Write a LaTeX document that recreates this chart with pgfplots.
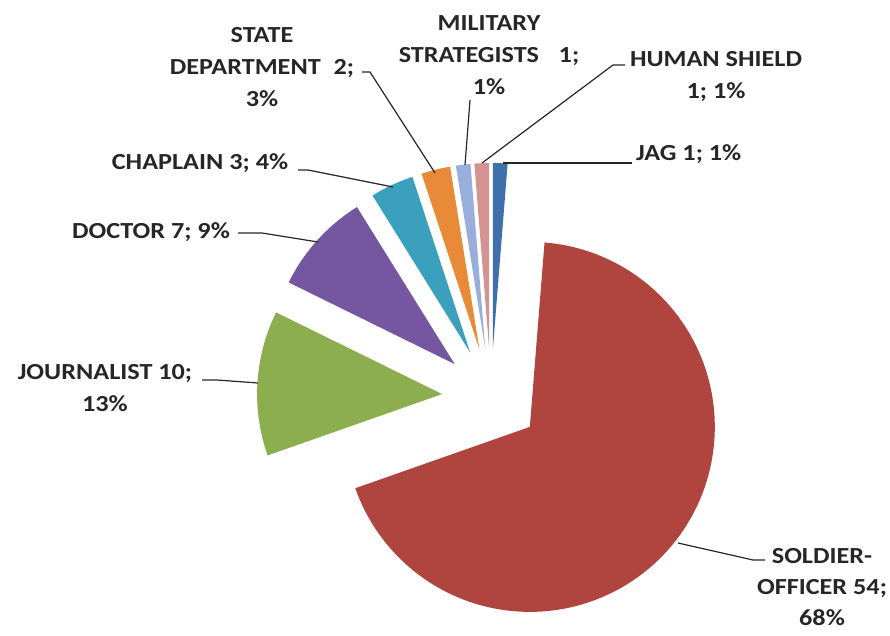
\documentclass[border=0pt]{standalone}
\usepackage{pgfplots}
\pgfplotsset{compat=1.18}
\usepackage{pgfplotstable}
\usepackage{fontspec}
\setmainfont{Carlito}[FakeStretch=1.14]

\definecolor{c0}{HTML}{3F70AC}
\definecolor{c1}{HTML}{B0443F}
\definecolor{c2}{HTML}{8DAE4F}
\definecolor{c3}{HTML}{7457A0}
\definecolor{c4}{HTML}{3AA0BE}
\definecolor{c5}{HTML}{E88A38}
\definecolor{c6}{HTML}{98AEDC}
\definecolor{c7}{HTML}{D49390}

\tikzset{lab/.style={font=\fontsize{23}{32}\selectfont\bfseries,align=center,inner sep=0pt,text=black!85}}

\pgfplotstableread[col sep=comma]{
name,value
JAG,1
SOLDIER-OFFICER,54
JOURNALIST,10
DOCTOR,7
CHAPLAIN,3
STATE DEPARTMENT,2
MILITARY STRATEGISTS,1
HUMAN SHIELD,1
}\piedata

\pgfplotstablegetrowsof{\piedata}
\pgfmathtruncatemacro\nrows{\pgfplotsretval-1}
\def\pietotal{0}
\pgfplotsforeachungrouped \i in {0,...,\nrows}{%
  \pgfplotstablegetelem{\i}{value}\of\piedata
  \pgfmathsetmacro\pietotal{\pietotal+\pgfplotsretval}%
}
\pgfmathsetmacro\piedeg{360/\pietotal}

\begin{document}
\begin{tikzpicture}
\begin{axis}[x=1pt,y=1pt,xmin=0,xmax=890,ymin=0,ymax=635,ticks=none,
  axis line style={draw=none},clip=false]
\def\piecum{0}
\pgfplotsforeachungrouped \i in {0,...,\nrows}{%
  \pgfplotstablegetelem{\i}{value}\of\piedata
  \let\pieval=\pgfplotsretval
  \pgfmathsetmacro\piea{90-\piedeg*\piecum}%
  \pgfmathsetmacro\pieb{90-\piedeg*(\piecum+\pieval)}%
  \pgfmathsetmacro\piem{(\piea+\pieb)/2}%
  \pgfmathsetmacro\pieox{491+49*cos(\piem)}%
  \pgfmathsetmacro\pieoy{238+49*sin(\piem)}%
  \pgfmathtruncatemacro\pions{max(8,abs(\piea-\pieb)/1.5)}%
  \edef\cmd{\noexpand\addplot[draw=none,fill=c\i,domain=\pieb:\piea,samples=\pions,variable=\noexpand\tt]
     ({\pieox+185*cos(\noexpand\tt)},{\pieoy+185*sin(\noexpand\tt)}) -- (axis cs:\pieox,\pieoy) -- cycle;}%
  \cmd
  \pgfmathsetmacro\piecum{\piecum+\pieval}%
}
% leader lines
\addplot[black!85,line width=1.2pt] coordinates {(503,472) (632,472)};
\addplot[black!85,line width=1.2pt] coordinates {(482,472) (613,570) (625,570)};
\addplot[black!85,line width=1.2pt] coordinates {(465,470) (470,535)};
\addplot[black!85,line width=1.2pt] coordinates {(435,462) (370,563) (362,563)};
\addplot[black!85,line width=1.2pt] coordinates {(393,448) (308,465) (298,465)};
\addplot[black!85,line width=1.2pt] coordinates {(238,402) (262,402) (318,393)};
\addplot[black!85,line width=1.2pt] coordinates {(202,255) (217,255) (258,252)};
\addplot[black!85,line width=1.2pt] coordinates {(678,92) (753,75) (765,75)};
% labels
\node[lab,anchor=west] at (axis cs:636,481) {JAG 1; 1\%};
\node[lab] at (axis cs:716,558) {HUMAN SHIELD\\1; 1\%};
\node[lab] at (axis cs:489,580) {MILITARY\\STRATEGISTS\hspace{0.6em} 1;\\1\%};
\node[lab] at (axis cs:262,568) {STATE\\DEPARTMENT\hspace{0.3em} 2;\\3\%};
\node[lab] at (axis cs:200,472) {CHAPLAIN 3; 4\%};
\node[lab] at (axis cs:151,403) {DOCTOR 7; 9\%};
\node[lab] at (axis cs:105,247) {JOURNALIST 10;\\13\%};
\node[lab,font=\fontsize{23}{31}\selectfont\bfseries] at (axis cs:822,48) {SOLDIER-\\OFFICER 54;\\68\%};
\end{axis}
\end{tikzpicture}
\end{document}
